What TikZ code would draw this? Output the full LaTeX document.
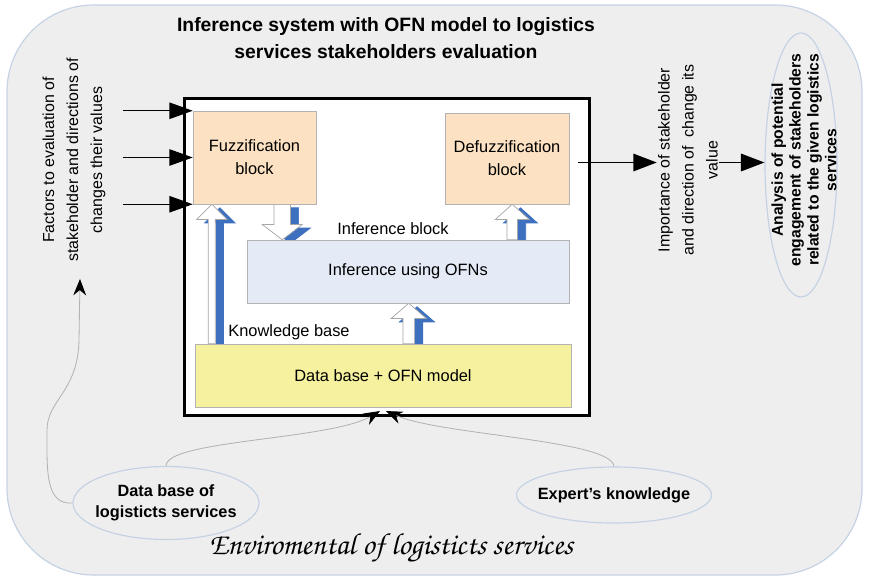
\documentclass[tikz,border=0pt]{standalone}
\usepackage{fontspec}
\setmainfont{Liberation Sans}
\newfontfamily\handfont{TeX Gyre Chorus}
\usetikzlibrary{calc,positioning,arrows.meta,shapes.geometric,backgrounds}
\definecolor{envgray}{RGB}{238,238,238}
\definecolor{envline}{RGB}{196,210,228}
\definecolor{fuzzfill}{RGB}{252,226,194}
\definecolor{inffill}{RGB}{228,235,247}
\definecolor{dbfill}{RGB}{246,241,158}
\definecolor{kbblue}{RGB}{62,112,192}
\pgfdeclarelayer{arrows}
\pgfsetlayers{background,arrows,main}
\newcommand{\body}{\fontsize{14}{19.5}\selectfont}
\newcommand{\rotfont}{\fontsize{13.6}{20.5}\selectfont}
% hollow block arrow with a blue shadow: [half shaft] {base} {tip}
\newcommand{\fatarrow}[3][5pt]{%
  \begin{pgfonlayer}{arrows}
  \foreach \col/\ln/\dx/\dy in {kbblue/kbblue/7pt/3pt, white/gray!70/0pt/0pt}{
    \filldraw[fill=\col,draw=\ln,line width=0.6pt]
      let \p1=(#2), \p2=(#3), \p3=($(\x1,\y2)!13pt!(\x1,\y1)$) in
      (\x1-#1+\dx,\y1-\dy) -- (\x1-#1+\dx,\y3-\dy) -- (\x1-#1-10pt+\dx,\y3-\dy)
      -- (\x1+\dx,\y2-\dy) -- (\x1+#1+10pt+\dx,\y3-\dy) -- (\x1+#1+\dx,\y3-\dy)
      -- (\x1+#1+\dx,\y1-\dy) -- cycle;
  }
  \end{pgfonlayer}}
\tikzset{
  sysbox/.style={draw,line width=2.6pt,fill=white,minimum width=12.15cm,minimum height=9.51cm},
  blk/.style={draw=gray!60,align=center,font=\body,inner sep=2pt},
  lbl/.style={font=\body,inner sep=1pt},
  inarr/.style={-{Triangle[length=20pt,width=14pt]},line width=1.2pt},
  outarr/.style={-{Triangle[length=20pt,width=15pt]},line width=1.2pt},
  ell/.style={ellipse,draw=envline,fill=envgray,line width=1pt,align=center},
  curv/.style={draw=gray!60,line width=0.7pt,-{Stealth[length=14pt,width=11pt,black]}},
  rottxt/.style={rotate=90,align=center,font=\rotfont,inner sep=1pt}
}
\begin{document}
\begin{tikzpicture}[x=0.03cm,y=-0.03cm]
  \useasboundingbox (0,0) rectangle (870,579);
  % environment and system frame
  \begin{pgfonlayer}{background}
    \draw[envline,line width=1pt,fill=envgray,rounded corners=2.6cm] (7,5) rectangle (862,575);
    \node[sysbox] (sys) at (387,257) {};
  \end{pgfonlayer}
  \node[font=\fontsize{16.5}{23}\selectfont\bfseries,align=center] (ttl) at (386,38)
    {Inference system with OFN model to logistics\\services stakeholders evaluation};
  % blocks
  \node[blk,fill=fuzzfill,minimum width=3.69cm,minimum height=2.79cm] (fz)  at (254.5,157.5) {Fuzzification\\block};
  \node[blk,fill=fuzzfill,minimum width=3.72cm,minimum height=2.73cm] (dfz) at (507,158.5)   {Defuzzification\\block};
  \node[blk,fill=inffill,minimum width=9.66cm,minimum height=1.89cm]  (inf) at (408,271.5)   {Inference using OFNs};
  \node[blk,fill=dbfill,minimum width=11.28cm,minimum height=1.89cm]  (db)  at (383,375.5)   {Data base + OFN model};
  \node[lbl] (ib) at (393,229) {Inference block};
  \node[lbl] (kb) at (289,332) {Knowledge base};
  % block arrows
  \fatarrow[3pt]{$(db.north west)+(17,0)$}{fz.south}
  \fatarrow[7pt]{$(fz.south east)+(-34,0)$}{inf.north}
  \fatarrow[5pt]{$(db.north west)+(214,0)$}{inf.south}
  \fatarrow[4.5pt]{$(inf.north east)+(-57,0)$}{dfz.south}
  % inputs
  \foreach \a/\i in {north west/1, west/2, south west/3}{
    \coordinate (in\i) at ($(fz.\a)+(-70,0)$);
    \draw[inarr] (in\i) -- (fz.\a);
  }
  \node[rottxt] (fac) at (74,160) {Factors to evaluation of\\stakeholder and directions of\\changes their values};
  % outputs
  \node[rottxt] (imp) at (688,160) {Importance of stakeholder\\and direction of\ \ change its\\value};
  \node[ell,minimum width=2.16cm,minimum height=7.92cm] (ana) at (801,165) {};
  \node[rottxt,font=\fontsize{13.4}{15.2}\selectfont\bfseries] (anatxt) at (804,160)
    {Analysis of potential\\engagement of stakeholders\\related to the given logistics\\services};
  \coordinate (o1) at ($(dfz.east)+(9,4)$);
  \draw[outarr] (o1) -- (o1 -| imp.north);
  \coordinate (o2) at (o1 -| imp.south);
  \draw[outarr] (o2) -- (o2 -| ana.west);
  % sources
  \node[ell,minimum width=5.58cm,minimum height=2.19cm,inner xsep=-5pt,
        font=\fontsize{13.9}{18}\selectfont\bfseries] (dbl) at (166,503) {Data base of\\logisticts services};
  \node[ell,minimum width=5.85cm,minimum height=1.68cm,inner xsep=-8pt,
        font=\fontsize{13.9}{18}\selectfont\bfseries] (exp) at (614,495) {Expert's knowledge};
  \coordinate (fin)  at (80,279);
  \coordinate (tgt1) at ($(sys.south)+(-7,-6)$);
  \coordinate (tgt2) at ($(sys.south)+(-1,-6)$);
  \draw[curv] (dbl.west) .. controls (45,505) and (47,470) .. (47,430)
              .. controls (47,400) and (78,392) .. (79,340) -- (fin);
  \draw[curv] (dbl.north) .. controls (166,440) and (330,440) .. (tgt1);
  \draw[curv] (exp.north) .. controls (612,440) and (440,435) .. (tgt2);
  \node[font=\handfont\fontsize{26}{28}\selectfont] (env) at (391,548) {Enviromental of logisticts services};
\end{tikzpicture}
\end{document}
